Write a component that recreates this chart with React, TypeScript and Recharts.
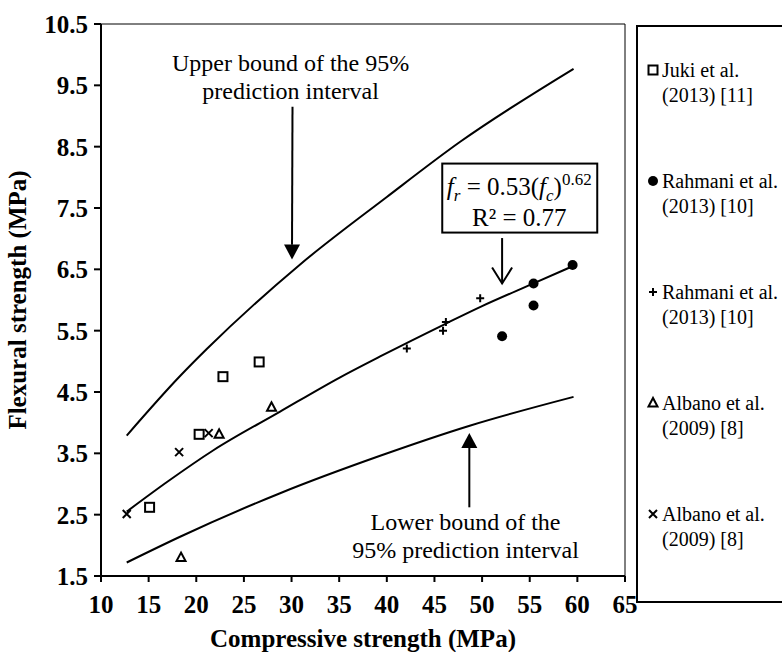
import React from "react";
import {
  ComposedChart,
  Scatter,
  Line,
  XAxis,
  YAxis,
  ReferenceLine,
  ReferenceDot,
  Label,
} from "recharts";

const FONT = "'Liberation Serif', 'Times New Roman', serif";

const xTicks = [10, 15, 20, 25, 30, 35, 40, 45, 50, 55, 60, 65];
const yTicks = [1.5, 2.5, 3.5, 4.5, 5.5, 6.5, 7.5, 8.5, 9.5, 10.5];

// measured points
const jukiData = [
  { x: 15.1, y: 2.62 },
  { x: 20.3, y: 3.81 },
  { x: 22.8, y: 4.75 },
  { x: 26.6, y: 4.99 },
];
const rahmaniDotData = [
  { x: 52.1, y: 5.41 },
  { x: 55.4, y: 5.91 },
  { x: 55.4, y: 6.27 },
  { x: 59.5, y: 6.57 },
];
const rahmaniPlusData = [
  { x: 42.1, y: 5.21 },
  { x: 45.9, y: 5.5 },
  { x: 46.2, y: 5.64 },
  { x: 49.8, y: 6.03 },
];
const albanoTriData = [
  { x: 18.4, y: 1.8 },
  { x: 22.4, y: 3.81 },
  { x: 27.9, y: 4.25 },
];
const albanoCrossData = [
  { x: 12.7, y: 2.51 },
  { x: 18.2, y: 3.52 },
  { x: 21.3, y: 3.83 },
];

// curves
const fitCurve = [
  { x: 12.7, y: 2.55 },
  { x: 17, y: 3.04 },
  { x: 21.8, y: 3.55 },
  { x: 28.8, y: 4.18 },
  { x: 35.1, y: 4.74 },
  { x: 39.3, y: 5.08 },
  { x: 46, y: 5.6 },
  { x: 50, y: 5.9 },
  { x: 55.4, y: 6.27 },
  { x: 59.5, y: 6.55 },
];
const upperCurve = [
  { x: 12.7, y: 3.79 },
  { x: 18.3, y: 4.76 },
  { x: 21.1, y: 5.2 },
  { x: 30.9, y: 6.58 },
  { x: 40, y: 7.68 },
  { x: 47.7, y: 8.58 },
  { x: 59.6, y: 9.77 },
];
const lowerCurve = [
  { x: 12.7, y: 1.72 },
  { x: 18.3, y: 2.14 },
  { x: 28.8, y: 2.85 },
  { x: 39.3, y: 3.46 },
  { x: 48.7, y: 3.95 },
  { x: 59.6, y: 4.42 },
];

const legendNames = [
  ["Juki et al.", "(2013) [11]"],
  ["Rahmani et al.", "(2013) [10]"],
  ["Rahmani et al.", "(2013) [10]"],
  ["Albano et al.", "(2009) [8]"],
  ["Albano et al.", "(2009) [8]"],
];
const legendKinds = ["square", "dot", "plus", "triangle", "cross"];
const legendTops = [43, 154, 265, 376, 487];

function Marker({ kind, cx, cy }: any) {
  const s = 4.5;
  switch (kind) {
    case "square":
      return <rect x={cx - s} y={cy - s} width={2 * s} height={2 * s} fill="#fff" stroke="#000" strokeWidth={2} />;
    case "dot":
      return <circle cx={cx} cy={cy} r={5} fill="#000" />;
    case "plus":
      return (
        <path d={`M${cx - 4},${cy} L${cx + 4},${cy} M${cx},${cy - 4} L${cx},${cy + 4}`} stroke="#000" strokeWidth={2} />
      );
    case "triangle":
      return (
        <polygon
          points={`${cx},${cy - 5} ${cx - 4.5},${cy + 3.5} ${cx + 4.5},${cy + 3.5}`}
          fill="#fff"
          stroke="#000"
          strokeWidth={2}
        />
      );
    default:
      return (
        <path d={`M${cx - 4},${cy - 4} L${cx + 4},${cy + 4} M${cx - 4},${cy + 4} L${cx + 4},${cy - 4}`} stroke="#000" strokeWidth={2} />
      );
  }
}

const shapeOf = (kind: string) => (props: any) => <Marker kind={kind} cx={props.cx} cy={props.cy} />;

const LegendBox = () => (
  <div
    style={{
      position: "absolute",
      left: 636,
      top: 25,
      width: 160,
      height: 578,
      border: "2px solid #000",
      boxSizing: "border-box",
      background: "#fff",
      fontFamily: FONT,
      fontSize: 20,
      color: "#000",
    }}
  >
    {legendNames.map((lines, i) => (
      <div key={i} style={{ position: "absolute", left: 0, top: legendTops[i] - 12, width: 200 }}>
        <svg width={24} height={24} style={{ position: "absolute", left: 3, top: 0 }}>
          <Marker kind={legendKinds[i]} cx={12} cy={12} />
        </svg>
        <div style={{ position: "absolute", left: 24, top: 0, lineHeight: "25px", whiteSpace: "nowrap" }}>
          {lines[0]}
          <br />
          {lines[1]}
        </div>
      </div>
    ))}
  </div>
);

const DownHead = ({ cx, cy }: any) => (
  <polygon points={`${cx},${cy} ${cx - 8},${cy - 15} ${cx + 8},${cy - 15}`} fill="#000" />
);
const UpHead = ({ cx, cy }: any) => (
  <polygon points={`${cx},${cy} ${cx - 8},${cy + 15} ${cx + 8},${cy + 15}`} fill="#000" />
);
const OpenHead = ({ cx, cy }: any) => (
  <path d={`M${cx - 10},${cy - 16} L${cx},${cy} L${cx + 10},${cy - 16}`} fill="none" stroke="#000" strokeWidth={2} />
);

const twoLines = (a: string, b: string) => ({ cx, cy }: any) => (
  <text textAnchor="middle" fontFamily={FONT} fontSize={24} fill="#000">
    <tspan x={cx} y={cy - 14} dominantBaseline="central">{a}</tspan>
    <tspan x={cx} y={cy + 14} dominantBaseline="central">{b}</tspan>
  </text>
);

const EquationBox = ({ cx, cy }: any) => (
  <g fontFamily={FONT} fill="#000">
    <rect x={cx - 77} y={cy - 34} width={155} height={69} fill="#fff" stroke="#000" strokeWidth={2} />
    <text x={cx} y={cy - 3} textAnchor="middle" fontSize={25}>
      <tspan fontStyle="italic">f</tspan>
      <tspan fontStyle="italic" fontSize={17} dy={6}>r</tspan>
      <tspan dy={-6}> = 0.53(</tspan>
      <tspan fontStyle="italic">f</tspan>
      <tspan fontStyle="italic" fontSize={17} dy={6}>c</tspan>
      <tspan dy={-6}>)</tspan>
      <tspan fontSize={17} dy={-10}>0.62</tspan>
    </text>
    <text x={cx} y={cy + 28} textAnchor="middle" fontSize={25}>
      R² = 0.77
    </text>
  </g>
);

const axisFont = { fill: "#000", fontSize: 25, fontWeight: "bold", fontFamily: FONT };

export default function App() {
  return (
    <div style={{ position: "absolute", left: 0, top: 0, width: 782, height: 652, background: "#fff" }}>
      <ComposedChart width={782} height={652} margin={{ top: 24, right: 157, bottom: 0, left: 0 }}>
        <XAxis
          type="number"
          dataKey="x"
          domain={[10, 65]}
          ticks={xTicks}
          interval={0}
          height={76}
          axisLine={{ stroke: "#000", strokeWidth: 2 }}
          tickLine={{ stroke: "#000", strokeWidth: 2 }}
          tickSize={6}
          tickMargin={13}
          tick={axisFont}
        >
          <Label value="Compressive strength (MPa)" position="insideBottom" offset={5} style={axisFont} />
        </XAxis>
        <YAxis
          type="number"
          dataKey="y"
          domain={[1.5, 10.5]}
          ticks={yTicks}
          interval={0}
          width={101}
          axisLine={{ stroke: "#000", strokeWidth: 2 }}
          tickLine={{ stroke: "#000", strokeWidth: 2 }}
          tickSize={7}
          tickMargin={6}
          tickFormatter={(v: number) => v.toFixed(1)}
          tick={axisFont}
        >
          <Label
            content={({ viewBox }: any) => (
              <text
                x={viewBox.x + 17}
                y={viewBox.y + viewBox.height / 2}
                transform={`rotate(-90 ${viewBox.x + 17} ${viewBox.y + viewBox.height / 2})`}
                textAnchor="middle"
                dominantBaseline="central"
                fontFamily={FONT}
                fontSize={25}
                fontWeight="bold"
                fill="#000"
              >
                Flexural strength (MPa)
              </text>
            )}
          />
        </YAxis>

        <ReferenceLine y={10.5} stroke="#000" strokeWidth={1} ifOverflow="visible" />
        <ReferenceLine x={65} stroke="#000" strokeWidth={1} ifOverflow="visible" />

        <Line data={upperCurve} dataKey="y" type="monotone" stroke="#000" strokeWidth={2} dot={false} legendType="none" isAnimationActive={false} />
        <Line data={fitCurve} dataKey="y" type="monotone" stroke="#000" strokeWidth={2} dot={false} legendType="none" isAnimationActive={false} />
        <Line data={lowerCurve} dataKey="y" type="monotone" stroke="#000" strokeWidth={2} dot={false} legendType="none" isAnimationActive={false} />

        <Scatter name="Juki et al. (2013) [11]" data={jukiData} dataKey="y" shape={shapeOf("square")} isAnimationActive={false} />
        <Scatter name="Rahmani et al. (2013) [10]" data={rahmaniDotData} dataKey="y" shape={shapeOf("dot")} isAnimationActive={false} />
        <Scatter name="Rahmani et al. (2013) [10] +" data={rahmaniPlusData} dataKey="y" shape={shapeOf("plus")} isAnimationActive={false} />
        <Scatter name="Albano et al. (2009) [8]" data={albanoTriData} dataKey="y" shape={shapeOf("triangle")} isAnimationActive={false} />
        <Scatter name="Albano et al. (2009) [8] x" data={albanoCrossData} dataKey="y" shape={shapeOf("cross")} isAnimationActive={false} />

        {/* upper bound note */}
        <ReferenceLine segment={[{ x: 30.1, y: 9.15 }, { x: 30.05, y: 6.9 }]} stroke="#000" strokeWidth={2} ifOverflow="visible" />
        <ReferenceDot x={30.05} y={6.66} shape={DownHead} ifOverflow="visible" />
        <ReferenceDot x={29.9} y={9.64} shape={twoLines("Upper bound of the 95%", "prediction interval")} ifOverflow="visible" />

        {/* fit note */}
        <ReferenceDot x={53.9} y={7.67} shape={EquationBox} ifOverflow="visible" />
        <ReferenceLine segment={[{ x: 52.1, y: 7.01 }, { x: 52.1, y: 6.27 }]} stroke="#000" strokeWidth={2} ifOverflow="visible" />
        <ReferenceDot x={52.1} y={6.27} shape={OpenHead} ifOverflow="visible" />

        {/* lower bound note */}
        <ReferenceLine segment={[{ x: 48.66, y: 2.62 }, { x: 48.66, y: 3.6 }]} stroke="#000" strokeWidth={2} ifOverflow="visible" />
        <ReferenceDot x={48.66} y={3.83} shape={UpHead} ifOverflow="visible" />
        <ReferenceDot x={48.26} y={2.15} shape={twoLines("Lower bound of the", "95% prediction interval")} ifOverflow="visible" />
      </ComposedChart>
      <LegendBox />
    </div>
  );
}
